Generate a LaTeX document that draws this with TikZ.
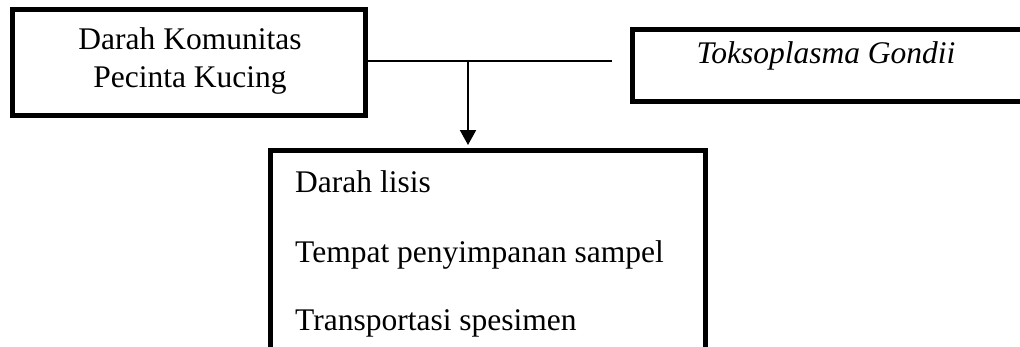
\documentclass[tikz,border=0pt]{standalone}
\usepackage{fontspec}
\setmainfont{Liberation Serif}
\usetikzlibrary{arrows.meta}
\begin{document}
\begin{tikzpicture}[x=1pt,y=-1pt,
  boxstyle/.style={draw=black,line width=5pt,rectangle,inner sep=0pt,fill=none},
  txt/.style={inner sep=0pt,font=\fontsize{31.5}{38}\selectfont},
  conn/.style={draw=black,line width=2pt}]
\useasboundingbox (0,0) rectangle (1020,346);
\fill[white] (0,0) rectangle (1020,346);
% boxes
\node[boxstyle,minimum width=353pt,minimum height=106pt] (L) at (189,62) {};
\node[boxstyle,minimum width=391.5pt,minimum height=72pt] (R) at (828.25,65) {};
\node[boxstyle,minimum width=434.5pt,minimum height=220pt] (B) at (488,260) {};
% texts
\node[txt,anchor=base] (l1) at (190,49) {Darah Komunitas};
\node[txt,anchor=base] (l2) at (190,87.5) {Pecinta Kucing};
\node[txt,anchor=base] (r1) at (826,63) {\itshape Toksoplasma Gondii};
\node[txt,anchor=base west] (b1) at (295,192) {Darah lisis};
\node[txt,anchor=base west] (b2) at (295,262) {Tempat penyimpanan sampel};
\node[txt,anchor=base west] (b3) at (295,330) {Transportasi spesimen};
% connectors
\coordinate (e) at (612,61);
\coordinate (j) at (468,61);
\coordinate (tip) at (468,145);
\draw[conn] (L.east |- e) -- (e);
\draw[conn,-{Triangle[length=15pt,width=16pt]}] (j) -- (tip);
\end{tikzpicture}
\end{document}
